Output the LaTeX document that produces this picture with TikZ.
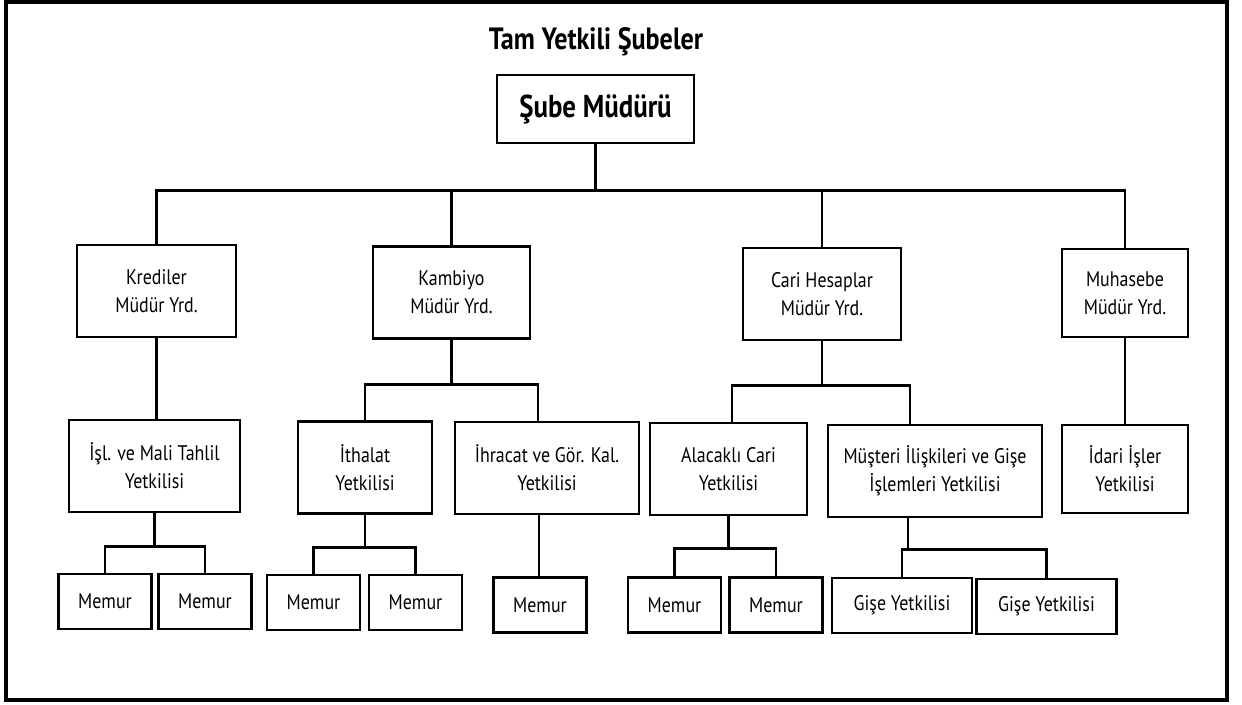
\documentclass[tikz,border=0pt]{standalone}
\usepackage{fontspec}
\setmainfont[FakeStretch=0.85]{PT Sans}
\usetikzlibrary{positioning, calc}

\tikzset{
  box/.style={draw, line width=1.5pt, fill=white, align=center, inner sep=0pt,
    font=\fontsize{12}{16}\selectfont},
  yrdbox/.style={box, minimum height=1.84cm},
  memurbox/.style={box, minimum width=1.86cm, minimum height=1.1cm},
  link/.style={line width=1.5pt}
}

\begin{document}
\begin{tikzpicture}[x=0.02cm, y=-0.02cm]
  \useasboundingbox (0,0) rectangle (1242,704);
  \draw[line width=2pt] (6,2) rectangle (1227,700);

  \node[font=\fontsize{17.5}{20}\bfseries\selectfont] (title) at (596,42) {Tam Yetkili Şubeler};
  \node[box, font=\fontsize{18}{20}\bfseries\selectfont, minimum width=3.94cm, minimum height=1.36cm] (mudur) at (595.5,109) {Şube Müdürü};

  \node[yrdbox, minimum width=3.18cm] (kred) at (156.5,291) {Krediler\\Müdür Yrd.};
  \node[yrdbox, minimum width=3.14cm] (kamb) at (451.5,292.5) {Kambiyo\\Müdür Yrd.};
  \node[yrdbox, minimum width=3.16cm] (cari) at (822,294) {Cari Hesaplar\\Müdür Yrd.};
  \node[yrdbox, minimum width=2.52cm, minimum height=1.76cm] (muh) at (1125,293) {Muhasebe\\Müdür Yrd.};

  \node[yrdbox, minimum width=3.42cm] (isl) at (154.5,466) {İşl. ve Mali Tahlil\\Yetkilisi};
  \node[yrdbox, minimum width=2.68cm] (itha) at (365,467.5) {İthalat\\Yetkilisi};
  \node[yrdbox, minimum width=3.68cm] (ihra) at (547,468) {İhracat ve Gör. Kal.\\Yetkilisi};
  \node[yrdbox, minimum width=3.14cm] (alac) at (728.5,469) {Alacaklı Cari\\Yetkilisi};
  \node[yrdbox, minimum width=4.28cm] (must) at (935,471) {Müşteri İlişkileri ve Gişe\\İşlemleri Yetkilisi};
  \node[yrdbox, minimum width=2.52cm, minimum height=1.76cm] (idari) at (1125,469) {İdari İşler\\Yetkilisi};

  \node[memurbox] (m1) at (105,601.5) {Memur};
  \node[memurbox] (m2) at (205,601.5) {Memur};
  \node[memurbox] (m3) at (313.5,602.5) {Memur};
  \node[memurbox] (m4) at (415.5,602.5) {Memur};
  \node[memurbox] (m5) at (540,605) {Memur};
  \node[memurbox] (m6) at (674.5,605) {Memur};
  \node[memurbox] (m7) at (776,605) {Memur};
  \node[memurbox, minimum width=2.8cm] (g1) at (902,605.5) {Gişe Yetkilisi};
  \node[memurbox, minimum width=2.8cm] (g2) at (1046.5,606.5) {Gişe Yetkilisi};

  \draw[link] (mudur.south) -- ++(0,46) coordinate (bus0);
  \draw[link] (kred.north) |- (bus0) -| (muh.north);
  \draw[link] (kamb.north) -- (kamb.north |- bus0);
  \draw[link] (cari.north) -- (cari.north |- bus0);

  \draw[link] (kred.south) -- (kred.south |- isl.north);
  \draw[link] (kamb.south) -- ++(0,45) coordinate (bus1);
  \draw[link] (itha.north) |- (bus1) -| ([xshift=-0.18cm]ihra.north);
  \draw[link] (cari.south) -- ++(0,44) coordinate (bus2);
  \draw[link] ([xshift=0.07cm]alac.north) |- (bus2) -| ([xshift=-0.5cm]must.north);
  \draw[link] (muh.south) -- (muh.south |- idari.north);

  \draw[link] (isl.south) -- ++(0,33) coordinate (bus3);
  \draw[link] (m1.north) |- (bus3) -| (m2.north);
  \draw[link] (itha.south) -- ++(0,33) coordinate (bus4);
  \draw[link] (m3.north) |- (bus4) -| (m4.north);
  \draw[link] ([xshift=-0.16cm]ihra.south) -- ([xshift=-0.16cm]ihra.south |- m5.north);
  \draw[link] (alac.south) -- ++(0,32) coordinate (bus5);
  \draw[link] (m6.north) |- (bus5) -| (m7.north);
  \draw[link] ([xshift=-0.54cm]must.south) -- ++(0,31) coordinate (bus6);
  \draw[link] (g1.north) |- (bus6) -| (g2.north);
\end{tikzpicture}
\end{document}
